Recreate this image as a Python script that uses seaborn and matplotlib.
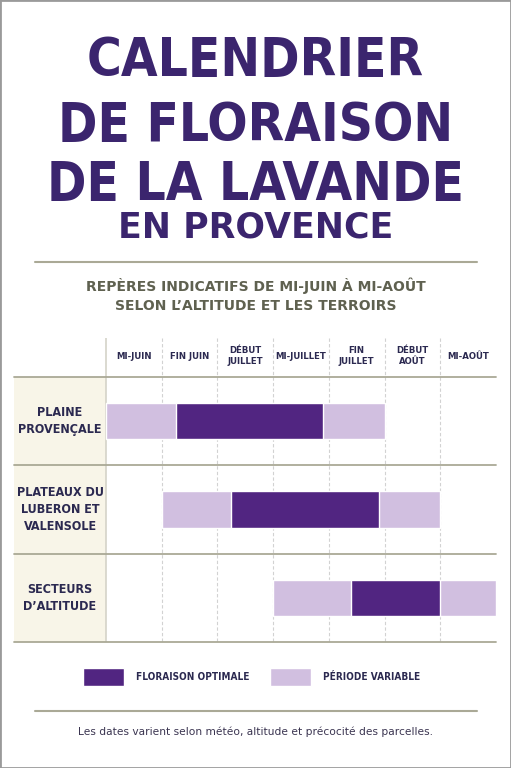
import matplotlib
matplotlib.use('Agg')
import matplotlib.pyplot as plt
from matplotlib.patches import Patch, Rectangle
from matplotlib.lines import Line2D
import pandas as pd
import seaborn as sns

# data
periods = ['MI-JUIN', 'FIN JUIN', 'DÉBUT\nJUILLET', 'MI-JUILLET',
           'FIN\nJUILLET', 'DÉBUT\nAOÛT', 'MI-AOÛT']
zones = ['PLAINE\nPROVENÇALE', 'PLATEAUX DU\nLUBERON ET\nVALENSOLE',
         'SECTEURS\nD\u2019ALTITUDE']
var_start = [0, 1, 3]
var_end = [5, 6, 7]
opt_start = [1.25, 2.25, 4.4]
opt_end = [3.9, 4.9, 6.0]

title_lines = ['CALENDRIER', 'DE FLORAISON', 'DE LA LAVANDE']
title_sub = 'EN PROVENCE'
subtitle = ['REPÈRES INDICATIFS DE MI-JUIN À MI-AOÛT',
            'SELON L\u2019ALTITUDE ET LES TERROIRS']
legend_labels = ['FLORAISON OPTIMALE', 'PÉRIODE VARIABLE']
footer = 'Les dates varient selon météo, altitude et précocité des parcelles.'

df = pd.DataFrame({'zone': zones, 'var_start': var_start, 'var_end': var_end,
                   'opt_start': opt_start, 'opt_end': opt_end})

sns.set_theme(style='white')
plt.rcParams['font.family'] = ['DejaVu Sans']

dark = '#512581'
light = '#d1bfe0'
title_col = '#3b256e'
navy = '#2b2950'
olive = '#5f6150'
rule = '#aaa996'

fig = plt.figure(figsize=(5.11, 7.68), dpi=100)
W, H = 511, 768

NARROW = dict(family='DejaVu Sans', stretch='condensed', weight='bold')

# title block
for txt, base in zip(title_lines, [76, 141, 200]):
    fig.text(0.5, 1 - base / H, txt, ha='center', va='baseline', fontsize=38,
             color=title_col, **NARROW)
fig.text(0.5, 1 - 238 / H, title_sub, ha='center', va='baseline', fontsize=25,
         fontweight='bold', color=title_col)
fig.add_artist(Line2D([35 / W, 477 / W], [1 - 262 / H] * 2,
                      transform=fig.transFigure, color=rule, lw=1.5))
for txt, yc in zip(subtitle, [286, 306]):
    fig.text(0.5, 1 - yc / H, txt, ha='center', va='center', fontsize=10,
             fontweight='bold', color=olive)

# chart
col_w = 55.7
left_w = 92 / col_w
row_h = 88.33
head_h = 39 / row_h
ax = fig.add_axes([14 / W, 1 - 642 / H, 482 / W, 304 / H])
ax.set_xlim(-left_w, 7)
ax.set_ylim(2.5, -0.5 - head_h)
ax.set_axis_off()

ax.add_patch(Rectangle((-left_w, -0.5), left_w, 3, facecolor='#f8f5e8',
                       edgecolor='none', zorder=0))
ax.vlines(range(1, 7), -0.5 - head_h, 2.5, colors='#d2d2d2', lw=0.8,
          linestyles=(0, (3, 2)), zorder=1)
ax.vlines([0], -0.5 - head_h, 2.5, colors='#d4d3c8', lw=1.2, zorder=1)
for yy in [-0.5, 0.5, 1.5, 2.5]:
    ax.axhline(yy, color=rule, lw=1.3, zorder=2, clip_on=False)

ypos = list(range(len(zones)))
ax.barh(ypos, df['var_end'] - df['var_start'], left=df['var_start'],
        height=0.41, color=light, zorder=3)
ax.barh(ypos, df['opt_end'] - df['opt_start'], left=df['opt_start'],
        height=0.41, color=dark, zorder=4)

head_y = -0.5 - 21 / row_h
for i, p in enumerate(periods):
    ax.text(i + 0.5, head_y, p, ha='center', va='center', fontsize=6.8,
            color=navy, linespacing=1.35, **NARROW)
for i, z in enumerate(zones):
    ax.text((60 - 106) / col_w, i, z, ha='center', va='center', fontsize=9,
            color=navy, linespacing=1.37, **NARROW)

# legend
handles = [Patch(facecolor=dark), Patch(facecolor=light)]
fig.legend(handles, legend_labels, loc='center',
           bbox_to_anchor=(0.492, 1 - 677 / H), ncol=2, frameon=False,
           prop={'family': 'DejaVu Sans', 'stretch': 'condensed',
                 'weight': 'bold', 'size': 7.2},
           labelcolor=navy, handlelength=4.1, handleheight=2.4,
           handletextpad=1.2, columnspacing=2.1)

fig.add_artist(Line2D([35 / W, 477 / W], [1 - 711 / H] * 2,
                      transform=fig.transFigure, color=rule, lw=1.5))
fig.text(0.5, 1 - 732 / H, footer, ha='center', va='center', fontsize=7.65,
         color='#3a3450')

fig.add_artist(Rectangle((0, 0), 1, 1, transform=fig.transFigure, fill=False,
                         edgecolor='#9a9a9a', lw=2))

fig.savefig('out.png', dpi=100)
